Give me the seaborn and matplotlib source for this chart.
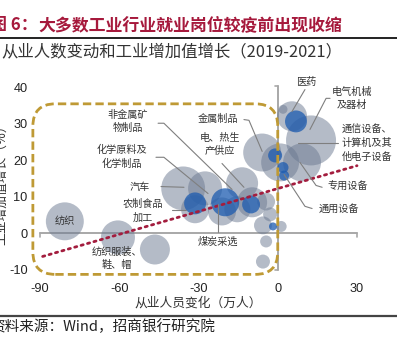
import matplotlib
matplotlib.use("Agg")
import matplotlib.pyplot as plt
from matplotlib.patches import FancyBboxPatch
import numpy as np
import pandas as pd
import seaborn as sns

# ---------------- data ----------------
gray_x = [-80.6, -60.5, -46.5, -35.8, -27.5, -13.5, -21.1, -9.7, -4.4, -2.9, -5.6, -4.4, 1.3, -5.6,
          -31.3, -15.3,
          2.0, 5.4, 12.6, 9.2, -5.9, 0.9]
gray_y = [3.3, -1.1, -4.4, 12.3, 12.3, 13.7, 6.0, 8.5, 8.7, 5.2, 2.2, -2.2, 1.9, -7.7,
          6.6, 6.6,
          33.9, 32.0, 25.4, 19.4, 22.1, 19.4]
gray_size = [36, 29, 22.5, 48, 29, 25.6, 19.6, 22.5, 8, 4.9, 8, 3.6, 3, 4.9,
             19.6, 17,
             2, 22.5, 62.5, 36, 36, 36]

blue_x = [-31.3, -19.9, -10.1, -1.8, 6.9, -1.0, 2.0, 2.4]
blue_y = [8.2, 8.5, 7.9, 1.9, 30.6, 21.3, 18.0, 15.8]
blue_size = [12, 19.6, 8, 1.6, 12, 4.9, 3, 2.5]

trend_x = [-89, 30]
trend_y = [-6.3, 18.5]

x_ticks = [-90, -60, -30, 0, 30]
y_ticks = [-10, 0, 10, 20, 30, 40]

# label text, text position, leader line points
labels = [
    ("医药", (10.7, 41.5), [(10.3, 39.3), (5.4, 33.3)]),
    ("电气机械\n及器材", (28.1, 36.9), [(19.8, 36.9), (18.3, 36.9), (12.2, 28.4)]),
    ("通信设备、\n计算机及其\n他电子设备", (33.8, 24.6), [(22.8, 24.6), (7.7, 24.6)]),
    ("专用设备", (26.6, 12.6), [(16.8, 12.6), (14.5, 13.1), (8.4, 19.4)]),
    ("通用设备", (23.2, 6.8), [(13.0, 6.8), (10.3, 7.4), (2.4, 16.1)]),
    ("金属制品", (-22.6, 31.4), [(-12.8, 31.1), (-10.9, 30.9), (-5.9, 22.4)]),
    ("电、热生\n产供应", (-21.9, 24.3), [(-21.1, 19.1), (-12.8, 12.6)]),
    ("非金属矿\n物制品", (-56.7, 30.6), [(-45.3, 30.1), (-43.1, 30.1), (-17.3, 12.0)]),
    ("化学原料及\n化学制品", (-59.0, 21.0), [(-46.1, 20.8), (-43.1, 20.8), (-26.4, 10.9)]),
    ("汽车", (-52.2, 12.8), [(-44.2, 12.8), (-35.5, 12.6)]),
    ("农制食品\n加工", (-51.0, 6.3), [(-40.0, 6.3), (-34.7, 6.3)]),
    ("煤炭采选", (-22.6, -2.2), [(-22.6, 0.3), (-22.6, 7.9)]),
    ("纺织", (-80.5, 3.3), []),
    ("纺织服装、\n鞋、帽", (-60.8, -6.8), []),
]

# ---------------- style ----------------
sns.set_theme(style="white")
plt.rcParams["font.family"] = ["Noto Sans CJK SC", "DejaVu Sans"]

W, H = 397, 346
fig = plt.figure(figsize=(W / 100, H / 100), dpi=100)
ax = fig.add_axes([40 / W, (H - 270) / H, 317 / W, 183 / H])
ax.set_xlim(-90, 30)
ax.set_ylim(-10, 40)

# axis lines through zero
axis_col = "#A8A8A8"
ax.plot([-90, 30], [0, 0], color=axis_col, lw=1.4, zorder=1, clip_on=False)
ax.plot([0, 0], [-10, 40.3], color=axis_col, lw=1.4, zorder=1, clip_on=False)
ax.plot([-90, -90], [0, -0.9], color=axis_col, lw=1.2, zorder=1, clip_on=False)
ax.plot([30, 30], [0, -0.9], color=axis_col, lw=1.2, zorder=1, clip_on=False)
ax.plot([0, -1.2], [40.3, 40.3], color=axis_col, lw=1.2, zorder=1, clip_on=False)
ax.plot([0, -1.2], [-10, -10], color=axis_col, lw=1.2, zorder=1, clip_on=False)

# bubbles
VMAX = 70.0
AREA_PER_UNIT = 20.736  # pt^2 per size unit
gdf = pd.DataFrame({"x": gray_x, "y": gray_y, "s": gray_size})
bdf = pd.DataFrame({"x": blue_x, "y": blue_y, "s": blue_size})
sns.scatterplot(data=gdf, x="x", y="y", size="s", sizes=(0, AREA_PER_UNIT * VMAX),
                size_norm=(0, VMAX), color="#6B7991", alpha=0.5, linewidth=0,
                legend=False, ax=ax, zorder=2, clip_on=False)
sns.scatterplot(data=bdf, x="x", y="y", size="s", sizes=(0, AREA_PER_UNIT * VMAX),
                size_norm=(0, VMAX), color="#1C5BB0", alpha=0.75, linewidth=0,
                legend=False, ax=ax, zorder=3, clip_on=False)

# dashed rounded box
box = FancyBboxPatch((-92.7, -11.2), 92.7, 46.6,
                     boxstyle="round,pad=0,rounding_size=8.5", mutation_aspect=0.72,
                     fill=False, edgecolor="#BF9A35", lw=2.0, linestyle=(0, (3.0, 1.5)),
                     zorder=4, clip_on=False)
ax.add_patch(box)

# trend line
ax.plot(trend_x, trend_y, color="#A31D3E", lw=2.0, linestyle=(0, (0.8, 1.6)),
        dash_capstyle="round", zorder=5, clip_on=False)

# labels
for txt, (tx, ty), pts in labels:
    ax.text(tx, ty, txt, fontsize=7.3, color="#333333", ha="center", va="center",
            linespacing=1.45, zorder=6, multialignment="center")
    if pts:
        xs = [p[0] for p in pts]
        ys = [p[1] for p in pts]
        ax.plot(xs, ys, color="#7F7F7F", lw=0.8, zorder=6, clip_on=False)

# ticks
ax.set_xticks(x_ticks)
ax.set_yticks(y_ticks)
ax.set_xticklabels([str(v) for v in x_ticks])
ax.set_yticklabels([str(v) for v in y_ticks])
for lab in ax.get_xticklabels() + ax.get_yticklabels():
    lab.set_fontfamily(["Liberation Sans", "DejaVu Sans"])
    lab.set_fontsize(9.2)
    lab.set_color("#222222")
ax.tick_params(axis="x", length=0, pad=9)
ax.tick_params(axis="y", length=0, pad=9)
for sp in ax.spines.values():
    sp.set_visible(False)
ax.set_xlabel("")
ax.set_ylabel("")
ax.grid(False)

# axis titles
fig.text(198 / W, (H - 303) / H, "从业人员变化（万人）", fontsize=9.2, color="#333333",
         ha="center", va="center")
fig.text(1.5 / W, (H - 182) / H, "工业增加值增长（%）", fontsize=9.2, color="#333333",
         ha="center", va="center", rotation=90)

# header
title_col = "#A6193C"
fig.text(-10 / W, (H - 25) / H, "图 6：", fontsize=12.2, fontweight="bold",
         color=title_col, ha="left", va="center")
fig.text(38 / W, (H - 25) / H, "大多数工业行业就业岗位较疫前出现收缩", fontsize=12.2,
         fontweight="bold", color=title_col, ha="left", va="center")
fig.add_artist(plt.Line2D([0, 1], [(H - 38) / H, (H - 38) / H], color="#111111", lw=1.3))
fig.text(1 / W, (H - 52) / H, "从业人数变动和工业增加值增长（2019-2021）", fontsize=11.8,
         color="#333333", ha="left", va="center")

# footer
fig.add_artist(plt.Line2D([0, 1], [(H - 315.5) / H, (H - 315.5) / H], color="#444444", lw=1.6))
fig.text(-10 / W, (H - 327) / H, "资料来源：Wind，招商银行研究院", fontsize=10.5,
         color="#222222", ha="left", va="center")

fig.savefig("out.png", dpi=100, facecolor="white")
